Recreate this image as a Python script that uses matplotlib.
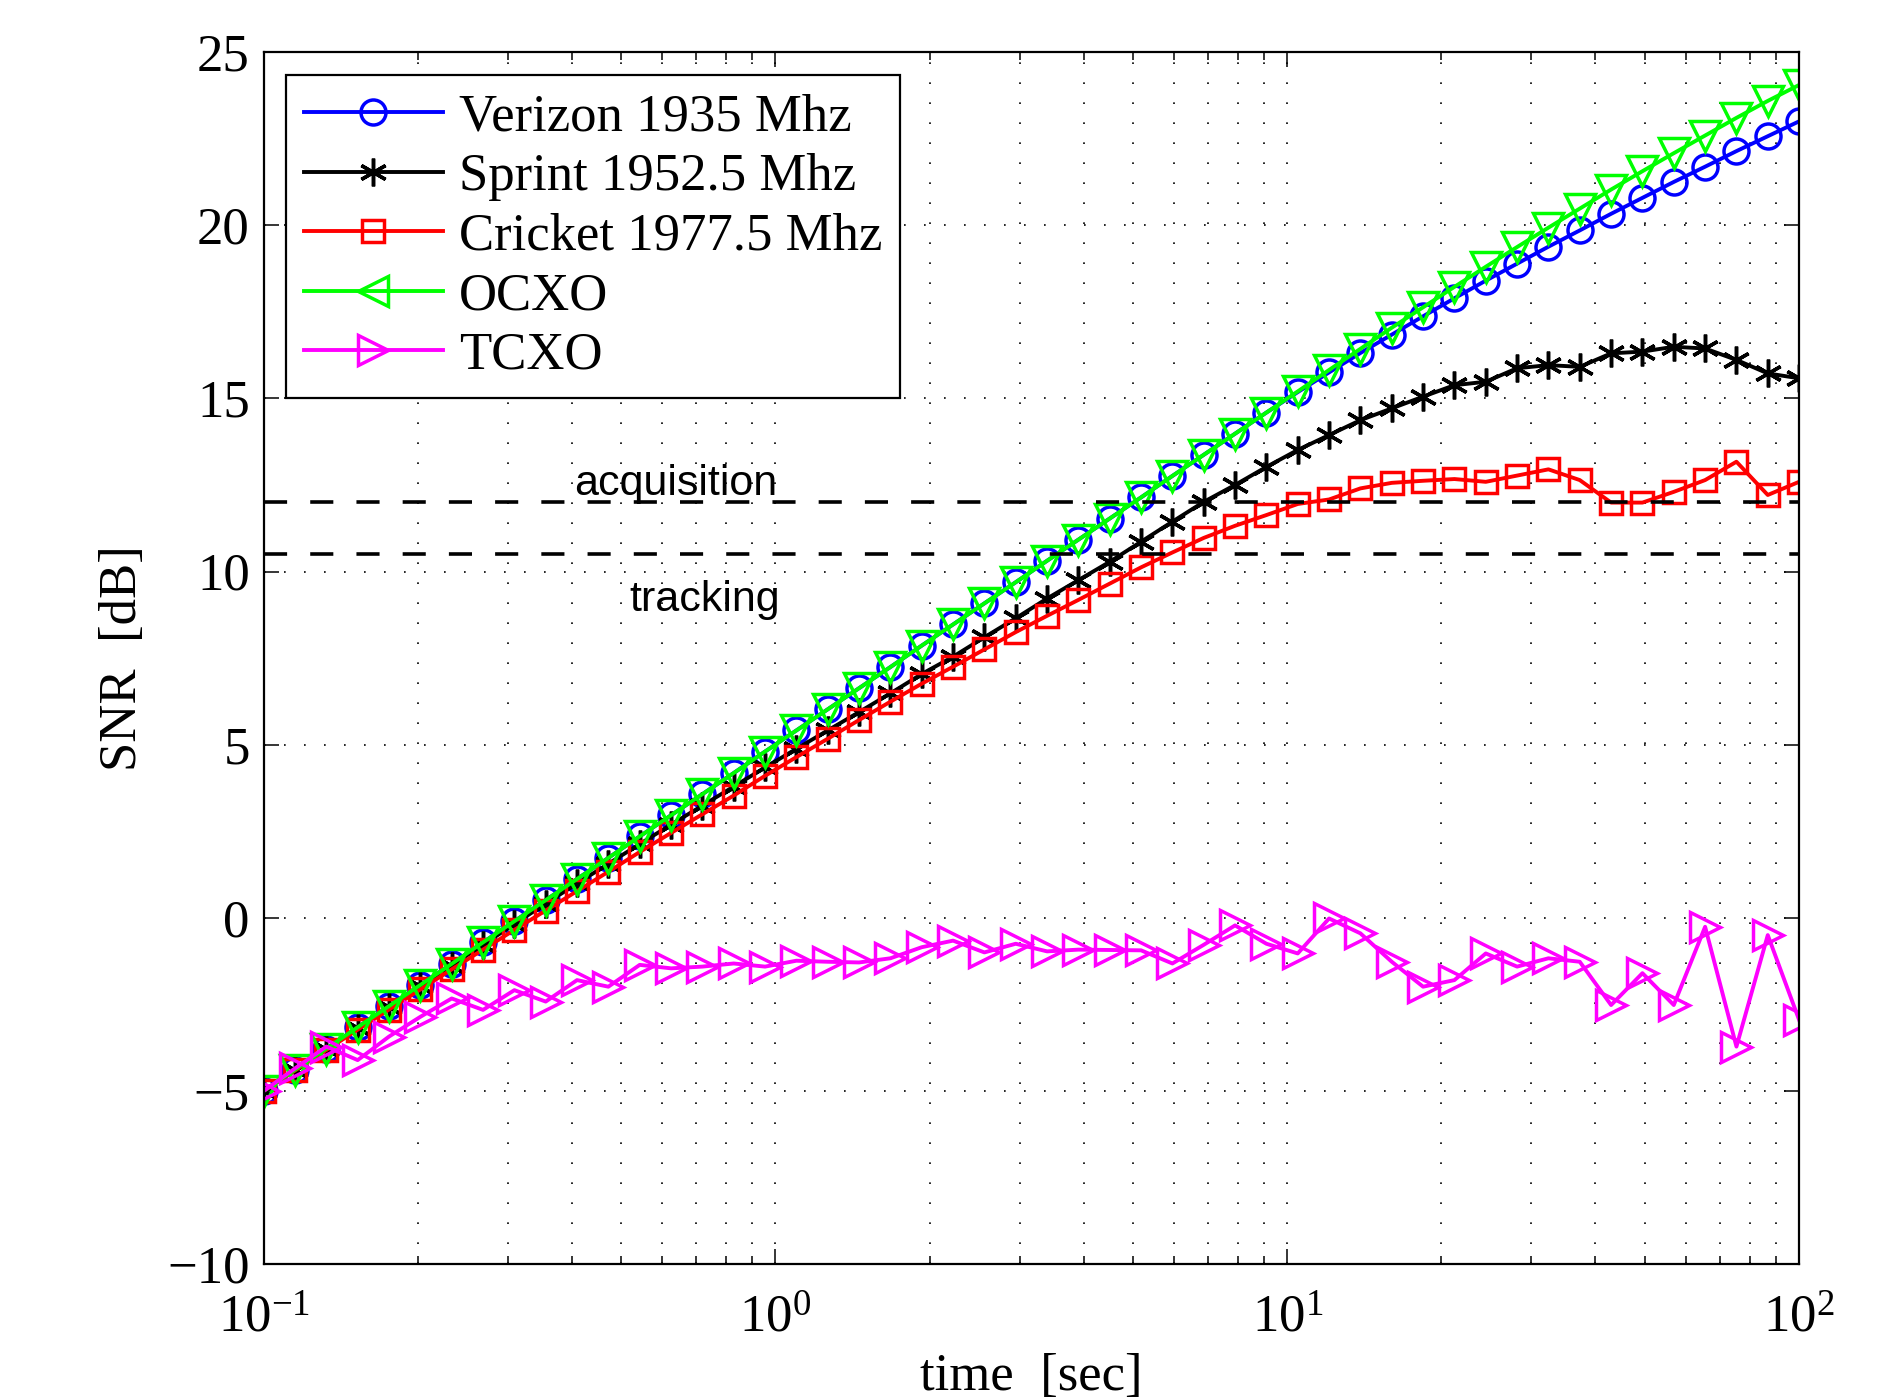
import matplotlib
matplotlib.use("Agg")
import matplotlib.pyplot as plt
from matplotlib.lines import Line2D
from matplotlib.ticker import LogLocator, MultipleLocator, NullLocator, NullFormatter

plt.rcParams['font.family'] = ['Liberation Serif', 'DejaVu Serif']
plt.rcParams['mathtext.fontset'] = 'custom'
plt.rcParams['mathtext.rm'] = 'Liberation Serif'
plt.rcParams['mathtext.it'] = 'Liberation Serif:italic'

# tiempo de integracion [s], 50 puntos log-espaciados entre 0.1 y 100
tiempo = [0.1, 0.11514, 0.13257, 0.15264, 0.17575, 0.20236, 0.23300, 0.26827, 0.30888, 0.35565,
          0.40949, 0.47149, 0.54287, 0.62506, 0.71969, 0.82864, 0.95410, 1.0985, 1.2649, 1.4563,
          1.6768, 1.9307, 2.2230, 2.5595, 2.9471, 3.3932, 3.9069, 4.4984, 5.1795, 5.9636,
          6.8665, 7.9060, 9.1030, 10.481, 12.068, 13.895, 15.999, 18.421, 21.210, 24.421,
          28.118, 32.375, 37.276, 42.919, 49.417, 56.899, 65.513, 75.431, 86.851, 100.0]

verizon = [-5.00, -4.39, -3.78, -3.16, -2.55, -1.94, -1.33, -0.71, -0.10, 0.51,
           1.12, 1.73, 2.35, 2.96, 3.57, 4.18, 4.80, 5.41, 6.02, 6.63,
           7.24, 7.86, 8.47, 9.08, 9.69, 10.31, 10.92, 11.53, 12.14, 12.76,
           13.37, 13.98, 14.59, 15.18, 15.75, 16.31, 16.84, 17.37, 17.89, 18.40,
           18.89, 19.38, 19.85, 20.33, 20.79, 21.25, 21.69, 22.14, 22.57, 23.00]

sprint = [-5.00, -4.39, -3.79, -3.18, -2.58, -1.98, -1.38, -0.78, -0.18, 0.41,
          0.99, 1.56, 2.13, 2.69, 3.24, 3.79, 4.34, 4.88, 5.41, 5.94,
          6.48, 7.04, 7.54, 8.10, 8.65, 9.22, 9.75, 10.28, 10.86, 11.44,
          12.01, 12.50, 13.02, 13.51, 13.94, 14.37, 14.71, 15.05, 15.38, 15.48,
          15.87, 15.96, 15.91, 16.30, 16.35, 16.49, 16.44, 16.11, 15.72, 15.58]

cricket = [-5.00, -4.41, -3.82, -3.23, -2.65, -2.07, -1.49, -0.92, -0.35, 0.21,
           0.77, 1.33, 1.90, 2.45, 2.99, 3.53, 4.10, 4.64, 5.17, 5.71,
           6.24, 6.76, 7.25, 7.75, 8.25, 8.72, 9.18, 9.65, 10.12, 10.55,
           10.97, 11.32, 11.63, 11.95, 12.08, 12.40, 12.56, 12.62, 12.67, 12.59,
           12.77, 12.95, 12.64, 11.99, 11.99, 12.30, 12.64, 13.17, 12.21, 12.59]

ocxo = [-5.00, -4.39, -3.78, -3.16, -2.55, -1.94, -1.33, -0.71, -0.10, 0.51,
        1.12, 1.73, 2.35, 2.96, 3.57, 4.18, 4.80, 5.41, 6.02, 6.63,
        7.24, 7.86, 8.47, 9.08, 9.69, 10.31, 10.92, 11.53, 12.14, 12.76,
        13.37, 13.98, 14.59, 15.20, 15.82, 16.43, 17.04, 17.63, 18.22, 18.80,
        19.37, 19.93, 20.48, 21.03, 21.56, 22.08, 22.59, 23.10, 23.59, 24.05]

tcxo = [-5.00, -4.35, -3.72, -4.11, -3.43, -2.86, -2.33, -2.66, -2.09, -2.42,
        -1.80, -1.99, -1.36, -1.46, -1.41, -1.32, -1.41, -1.24, -1.27, -1.29,
        -1.17, -0.85, -0.66, -1.00, -0.75, -0.97, -0.92, -0.93, -0.94, -1.32,
        -0.78, -0.22, -0.75, -1.03, -0.02, -0.45, -1.27, -1.99, -1.80, -1.03,
        -1.41, -1.17, -1.27, -2.52, -1.60, -2.52, -0.26, -3.72, -0.50, -2.95]

umbral_adquisicion = 12.0
umbral_seguimiento = 10.5

fig = plt.figure(figsize=(18.97, 14), dpi=100)
ax = fig.add_axes([0.139, 0.0971, 0.8094, 0.8657])

lw = 2.8
mew = 2.5
estilos = {
    'verizon': dict(color=(0, 0, 1), marker='o', ms=18, mfc='none'),
    'sprint': dict(color='k', marker=(6, 2, 0), ms=20),
    'cricket': dict(color=(1, 0, 0), marker='s', ms=16, mfc='none'),
    'ocxo': dict(color=(0, 1, 0), marker='v', ms=22, mfc='none'),
    'tcxo': dict(color=(1, 0, 1), marker='>', ms=22, mfc='none'),
}
ax.plot(tiempo, verizon, lw=lw, mew=mew, **estilos['verizon'])
ax.plot(tiempo, sprint, lw=lw, mew=mew, **estilos['sprint'])
ax.plot(tiempo, cricket, lw=lw, mew=mew, **estilos['cricket'])
ax.plot(tiempo, ocxo, lw=lw, mew=mew, **estilos['ocxo'])
ax.plot(tiempo, tcxo, lw=lw, mew=mew, **estilos['tcxo'])

ax.axhline(umbral_adquisicion, color='k', lw=2.6, linestyle=(0, (6.4, 6.4)))
ax.axhline(umbral_seguimiento, color='k', lw=2.6, linestyle=(0, (6.4, 6.4)))
ax.text(0.637, 12.2, 'acquisition', family='Liberation Sans', fontsize=31,
        ha='center', va='baseline')
ax.text(0.727, 8.85, 'tracking', family='Liberation Sans', fontsize=31,
        ha='center', va='baseline')

ax.set_xscale('log')
ax.set_xlim(0.1, 100)
ax.set_ylim(-10, 25)
ax.yaxis.set_major_locator(MultipleLocator(5))
ax.yaxis.set_minor_locator(NullLocator())
ax.xaxis.set_minor_locator(LogLocator(base=10, subs=range(2, 10)))
ax.xaxis.set_minor_formatter(NullFormatter())

ax.tick_params(which='both', direction='in', top=True, right=True, labelsize=38, width=1.1)
ax.tick_params(which='major', length=11)
ax.tick_params(which='minor', length=6)
ax.tick_params(axis='y', which='major', pad=10)
ax.tick_params(axis='x', which='major', pad=22)
for s in ax.spines.values():
    s.set_linewidth(1.6)

puntos = (0, (1, 11))
ax.grid(True, which='major', axis='both', color='k', linestyle=puntos, linewidth=1.2)
ax.grid(True, which='minor', axis='x', color='k', linestyle=puntos, linewidth=1.2)
ax.set_axisbelow(True)

ax.set_xlabel('time  [sec]', fontsize=38)
ax.set_ylabel('SNR  [dB]', fontsize=38)
ax.xaxis.set_label_coords(0.5, -0.073)
ax.yaxis.set_label_coords(-0.076, 0.5)

manijas = [
    Line2D([], [], lw=lw, mew=mew, **estilos['verizon']),
    Line2D([], [], lw=lw, mew=mew, **estilos['sprint']),
    Line2D([], [], lw=lw, mew=mew, **estilos['cricket']),
    Line2D([], [], lw=lw, mew=mew, **dict(estilos['ocxo'], marker='<')),
    Line2D([], [], lw=lw, mew=mew, **estilos['tcxo']),
]
etiquetas = ['Verizon 1935 Mhz', 'Sprint 1952.5 Mhz', 'Cricket 1977.5 Mhz', 'OCXO', 'TCXO']
leg = ax.legend(manijas, etiquetas, loc='upper left',
                bbox_to_anchor=(285.5 / 1897, 1 - 75 / 1400), bbox_transform=fig.transFigure,
                borderaxespad=0, fontsize=38, handlelength=2.63, handletextpad=0.3,
                labelspacing=0.22, borderpad=0.35, fancybox=False, framealpha=1,
                edgecolor='k')
leg.get_frame().set_linewidth(1.6)

fig.savefig('out.png', dpi=100)
